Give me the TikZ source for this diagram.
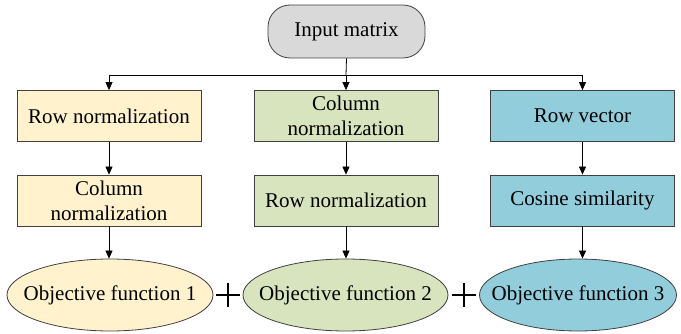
\documentclass[tikz,border=0pt]{standalone}
\usepackage{fontspec}
\setmainfont{Liberation Serif}
\usetikzlibrary{shapes.geometric,arrows.meta}
\definecolor{cyel}{HTML}{FFF2CC}
\definecolor{cgrn}{HTML}{D8E4BE}
\definecolor{cblu}{HTML}{92CDDC}
\definecolor{cgry}{HTML}{D9D9D9}
\definecolor{cedge}{HTML}{404040}
\begin{document}
\begin{tikzpicture}[x=1pt,y=-1pt,
  txt/.style={font=\fontsize{21}{25}\selectfont, align=center, text=black},
  procbox/.style={txt, draw=cedge, line width=0.8pt, minimum width=184pt, minimum height=51pt, inner sep=2pt},
  objell/.style={txt, ellipse, draw=cedge, line width=0.8pt, minimum height=72pt, inner xsep=-30pt, inner ysep=-6pt},
  startbox/.style={txt, draw=cedge, line width=0.8pt, rounded corners=22pt, minimum width=157pt, minimum height=53pt, fill=cgry},
  flow/.style={-{Triangle[length=8pt,width=7pt]}, line width=0.8pt, black},
  plussign/.style={minimum size=24pt, inner sep=0pt, path picture={
    \draw[line width=2.2pt] (path picture bounding box.west) -- (path picture bounding box.east);
    \draw[line width=2.2pt] (path picture bounding box.north) -- (path picture bounding box.south);}}
]
\useasboundingbox (0,0) rectangle (681,334);
\node[startbox] (in) at (346.5,31.5) {Input matrix};

\node[procbox, fill=cyel] (a1) at (109,116) {Row normalization};
\node[procbox, fill=cgrn] (b1) at (346,116) {Column\\normalization};
\node[procbox, fill=cblu] (c1) at (582.5,116) {Row vector};

\node[procbox, fill=cyel] (a2) at (109,200.5) {Column\\normalization};
\node[procbox, fill=cgrn] (b2) at (346,200.5) {Row normalization};
\node[procbox, fill=cblu] (c2) at (582.5,200.5) {Cosine similarity};

\node[objell, fill=cyel, minimum width=206pt] (a3) at (110,295) {Objective function 1};
\node[objell, fill=cgrn, minimum width=205pt] (b3) at (345.5,295) {Objective function 2};
\node[objell, fill=cblu, minimum width=197pt] (c3) at (578,295) {Objective function 3};

\node[plussign] (p1) at (228,295) {};
\node[plussign] (p2) at (464,295) {};

\coordinate (br) at (346,75);
\draw[line width=0.8pt] (in.south) -- (br);
\draw[flow] (br) -- (b1.north);
\draw[flow] (br) -| (a1.north);
\draw[flow] (br) -| (c1.north);

\draw[flow] (a1) -- (a2);
\draw[flow] (b1) -- (b2);
\draw[flow] (c1) -- (c2);
\draw[flow] (a2.south) -- (a2.south |- a3.north);
\draw[flow] (b2.south) -- (b2.south |- b3.north);
\draw[flow] (c2.south) -- (c2.south |- c3.north);
\end{tikzpicture}
\end{document}
